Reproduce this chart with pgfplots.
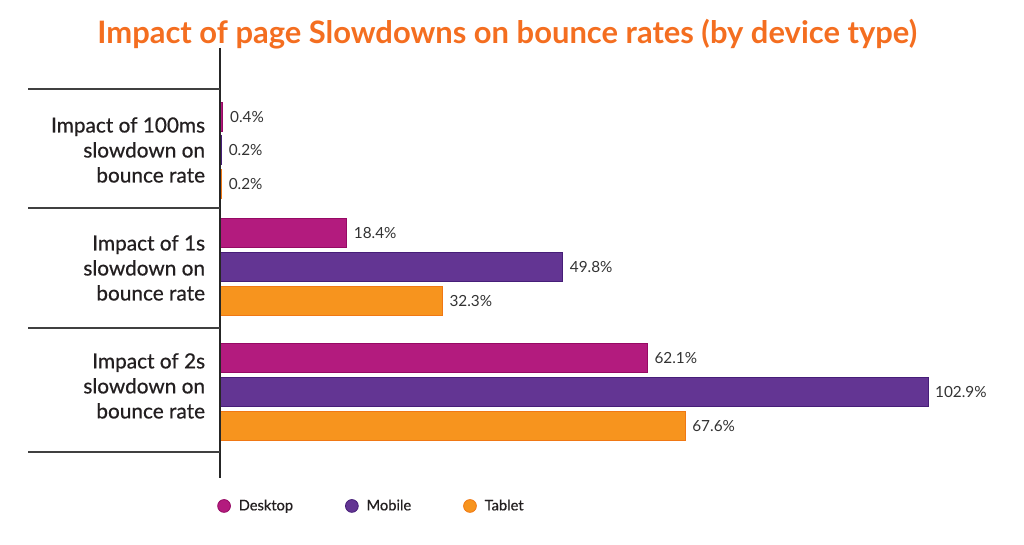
\documentclass[border=0pt]{standalone}
\usepackage{fontspec}
\setmainfont{Lato}
\newfontfamily\labfont[FakeBold=0.6]{Lato}
\usepackage{pgfplots}
\pgfplotsset{compat=1.18}
\definecolor{cDesk}{RGB}{179,27,126}
\definecolor{cDeskB}{RGB}{150,10,100}
\definecolor{cMob}{RGB}{99,53,147}
\definecolor{cMobB}{RGB}{70,30,120}
\definecolor{cTab}{RGB}{247,148,30}
\definecolor{cTabB}{RGB}{240,120,20}
\definecolor{cTitle}{RGB}{244,110,32}
\definecolor{cText}{RGB}{35,31,32}
\begin{document}
\begin{tikzpicture}
\path[use as bounding box] (0,0) rectangle (768pt,408pt);
\begin{axis}[
  at={(165pt,49.5pt)}, anchor=south west,
  scale only axis, width=593.25pt, height=322.5pt,
  xmin=0, xmax=115, ymin=-0.843, ymax=2.711,
  y dir=reverse,
  xbar, bar width=21.75pt, bar shift=0pt,
  axis line style={draw=none},
  xtick=\empty,
  ytick={0,0.975,1.95},
  yticklabels={{Impact of 100ms\\slowdown on\\bounce rate},{Impact of 1s\\slowdown on\\bounce rate},{Impact of 2s\\slowdown on\\bounce rate}},
  yticklabel style={align=right, font=\labfont\fontsize{15.6}{18.75}\selectfont, text=cText, inner sep=0pt, xshift=-11pt},
  major tick length=0pt,
  clip=false,
  nodes near coords={\pgfmathprintnumber[fixed,precision=1,fixed zerofill]{\pgfplotspointmeta}\%},
  nodes near coords style={font=\fontsize{11.5}{13}\selectfont, text=black!80, anchor=west, xshift=2pt},
  /pgf/number format/assume math mode=true,
  legend columns=3,
  legend image code/.code={\path[draw=none,fill=none] (0pt,0pt) -- (14pt,0pt); \draw[#1,line width=0.6pt] (5pt,0pt) circle (4.8pt);},
  legend style={draw=none, fill=none, inner sep=0pt, font=\labfont\fontsize{11}{12}\selectfont, text=cText,
    at={(axis description cs:-0.0038,-0.065)}, anchor=west,
    /tikz/every even column/.append style={column sep=37pt}},
]
\addplot[fill=cDesk, draw=cDeskB, line width=0.4pt] coordinates {(0.4,-0.273) (18.4,0.686) (62.1,1.719)};
\addlegendentry{Desktop}
\addplot[fill=cMob, draw=cMobB, line width=0.4pt] coordinates {(0.2,0) (49.8,0.967) (102.9,2.0)};
\addlegendentry{Mobile}
\addplot[fill=cTab, draw=cTabB, line width=0.4pt] coordinates {(0.2,0.281) (32.3,1.248) (67.6,2.281)};
\addlegendentry{Tablet}
\draw[line width=1.4pt, black!85] (axis cs:0,-0.843) -- (axis cs:0,2.711);
\pgfplotsinvokeforeach{-0.504,0.479,1.471,2.496}{
  \draw[line width=1pt, black!75] (axis cs:-27.9,#1) -- (axis cs:0,#1);
}
\node[font=\bfseries\fontsize{23.2}{26}\selectfont, text=cTitle] at (axis description cs:0.363,1.033) {Impact of page Slowdowns on bounce rates (by device type)};
\end{axis}
\end{tikzpicture}
\end{document}
